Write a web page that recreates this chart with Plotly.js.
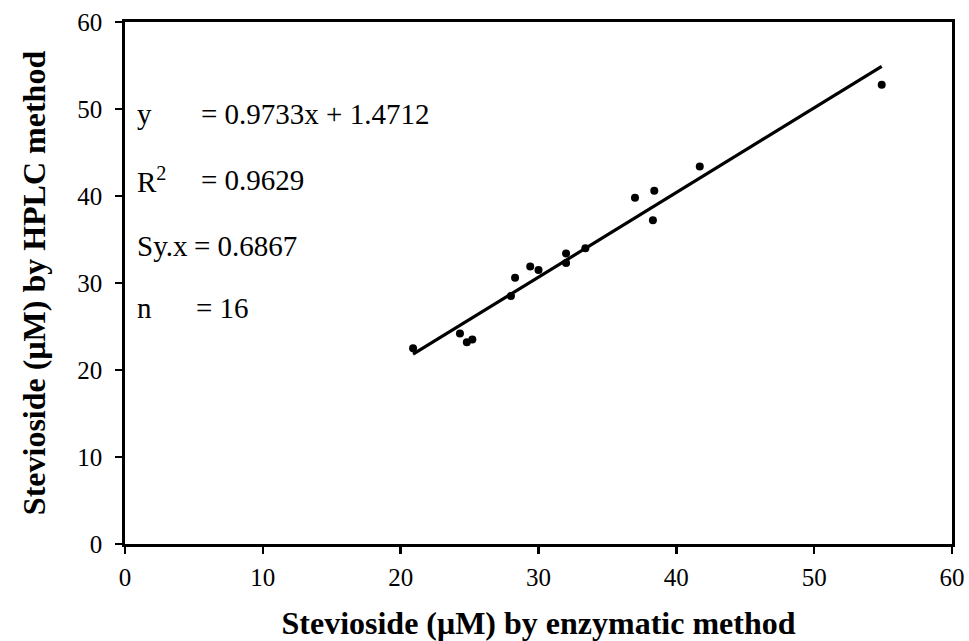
<!DOCTYPE html>
<html>
<head>
<meta charset="utf-8">
<script src="https://cdn.plot.ly/plotly-3.0.1.min.js"></script>
<style>html,body{margin:0;padding:0;background:#fff;}#chart{width:969px;height:641px;}</style>
</head>
<body>
<div id="chart"></div>
<script>
// Data
var enzymatic = [20.9, 24.3, 24.8, 25.2, 28.0, 28.3, 29.4, 30.0, 32.0, 32.0, 33.4, 37.0, 38.4, 38.3, 41.7, 54.9];
var hplc      = [22.5, 24.2, 23.2, 23.5, 28.5, 30.6, 31.9, 31.5, 32.3, 33.4, 34.0, 39.8, 40.6, 37.2, 43.4, 52.8];
var slope = 0.9733;
var intercept = 1.4712;
var fitRangeX = [20.9, 54.9];
var statLabels = ["y", "R<sup>2</sup>", "Sy.x", "n"];
var statValues = ["= 0.9733x + 1.4712", "= 0.9629", "= 0.6867", "= 16"];
var xTicks = [0, 10, 20, 30, 40, 50, 60];
var yTicks = [0, 10, 20, 30, 40, 50, 60];

var fitY = fitRangeX.map(function (x) { return slope * x + intercept; });

var font = "Liberation Serif, Times New Roman, serif";

var traces = [
  {
    x: fitRangeX, y: fitY, type: 'scatter', mode: 'lines',
    line: {color: '#000', width: 3.2}, hoverinfo: 'skip', showlegend: false
  },
  {
    x: enzymatic, y: hplc, type: 'scatter', mode: 'markers',
    marker: {color: '#000', size: 8}, showlegend: false
  }
];

var labelY = [49.45, 41.85, 34.25, 27.1];
var valueX = [5.38, 5.38, 4.85, 5.0];
var annotations = [];
for (var i = 0; i < statLabels.length; i++) {
  annotations.push({x: 0.75, y: labelY[i], xref: 'x', yref: 'y', text: statLabels[i],
    showarrow: false, xanchor: 'left', yanchor: 'middle', font: {family: font, size: 29, color: '#000'}});
  annotations.push({x: valueX[i], y: labelY[i], xref: 'x', yref: 'y', text: statValues[i],
    showarrow: false, xanchor: 'left', yanchor: 'middle', font: {family: font, size: 29, color: '#000'}});
}

var axisCommon = {
  showgrid: false, zeroline: false, showline: true, linecolor: '#000', linewidth: 2.8,
  mirror: true, ticks: 'outside', ticklen: 7, tickwidth: 2.5, tickcolor: '#000',
  tickfont: {family: font, size: 25, color: '#000'}
};

var layout = {
  width: 969, height: 641,
  margin: {l: 125, r: 17, t: 22, b: 97},
  paper_bgcolor: '#fff', plot_bgcolor: '#fff',
  xaxis: Object.assign({}, axisCommon, {
    range: [0, 60], tickvals: xTicks, ticktext: xTicks.map(String),
    ticklabelstandoff: 2,
    title: {text: '<b>Stevioside (μM) by enzymatic method</b>', standoff: 30,
      font: {family: font, size: 32, color: '#000'}}
  }),
  yaxis: Object.assign({}, axisCommon, {
    range: [0, 60], tickvals: yTicks, ticktext: yTicks.map(String),
    ticklabelstandoff: 8,
    title: {text: '<b>Stevioside (μM) by HPLC method</b>', standoff: 22,
      font: {family: font, size: 32, color: '#000'}}
  }),
  annotations: annotations
};

Plotly.newPlot('chart', traces, layout, {displayModeBar: false, staticPlot: true});
</script>
</body>
</html>
